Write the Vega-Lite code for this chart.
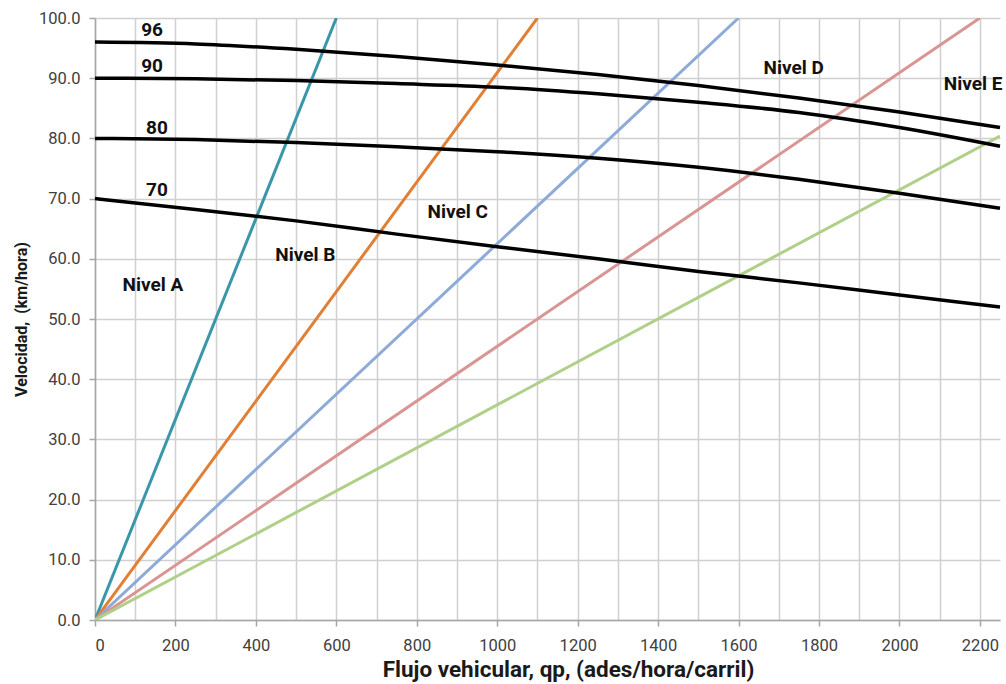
{
  "$schema": "https://vega.github.io/schema/vega-lite/v6.json",
  "autosize": {"type": "none"},
  "width": 905,
  "height": 602,
  "padding": {"left": 95, "top": 18, "right": 6, "bottom": 64},
  "background": "white",
  "config": {
    "view": {"stroke": null},
    "font": "Roboto",
    "axis": {
      "labelFont": "Roboto",
      "labelFontSize": 16.5,
      "labelColor": "#404040",
      "titleFont": "Roboto",
      "titleFontWeight": "bold",
      "titleColor": "#1a1a1a",
      "gridColor": "#d0d0d0",
      "gridWidth": 1.5,
      "domainColor": "#a6a6a6",
      "domainWidth": 1.5,
      "tickColor": "#a6a6a6",
      "tickWidth": 1.5,
      "tickSize": 6
    }
  },
  "datasets": {
    "curves": [
      {"q": 0, "v": 96, "s": "96"}, {"q": 250, "v": 95.7, "s": "96"}, {"q": 500, "v": 94.8, "s": "96"}, {"q": 750, "v": 93.6, "s": "96"}, {"q": 1000, "v": 92.2, "s": "96"}, {"q": 1250, "v": 90.6, "s": "96"}, {"q": 1500, "v": 88.8, "s": "96"}, {"q": 1750, "v": 86.7, "s": "96"}, {"q": 2000, "v": 84.4, "s": "96"}, {"q": 2250, "v": 81.8, "s": "96"},
      {"q": 0, "v": 90, "s": "90"}, {"q": 250, "v": 89.9, "s": "90"}, {"q": 500, "v": 89.6, "s": "90"}, {"q": 750, "v": 89.1, "s": "90"}, {"q": 1000, "v": 88.5, "s": "90"}, {"q": 1250, "v": 87.4, "s": "90"}, {"q": 1500, "v": 86.0, "s": "90"}, {"q": 1750, "v": 84.3, "s": "90"}, {"q": 2000, "v": 81.8, "s": "90"}, {"q": 2250, "v": 78.7, "s": "90"},
      {"q": 0, "v": 80, "s": "80"}, {"q": 250, "v": 79.8, "s": "80"}, {"q": 500, "v": 79.3, "s": "80"}, {"q": 750, "v": 78.6, "s": "80"}, {"q": 1000, "v": 77.8, "s": "80"}, {"q": 1250, "v": 76.7, "s": "80"}, {"q": 1500, "v": 75.2, "s": "80"}, {"q": 1750, "v": 73.2, "s": "80"}, {"q": 2000, "v": 70.9, "s": "80"}, {"q": 2250, "v": 68.4, "s": "80"},
      {"q": 0, "v": 70, "s": "70"}, {"q": 250, "v": 68.2, "s": "70"}, {"q": 500, "v": 66.3, "s": "70"}, {"q": 750, "v": 64.1, "s": "70"}, {"q": 1000, "v": 62.0, "s": "70"}, {"q": 1250, "v": 60.0, "s": "70"}, {"q": 1500, "v": 57.9, "s": "70"}, {"q": 1750, "v": 56.0, "s": "70"}, {"q": 2000, "v": 54.0, "s": "70"}, {"q": 2250, "v": 52.0, "s": "70"}
    ],
    "density": [
      {"q": 0, "v": 0, "k": "A"}, {"q": 600, "v": 100, "k": "A"},
      {"q": 0, "v": 0, "k": "B"}, {"q": 1100, "v": 100, "k": "B"},
      {"q": 0, "v": 0, "k": "C"}, {"q": 1600, "v": 100, "k": "C"},
      {"q": 0, "v": 0, "k": "D"}, {"q": 2200, "v": 100, "k": "D"},
      {"q": 0, "v": 0, "k": "E"}, {"q": 2250, "v": 80.4, "k": "E"}
    ],
    "labels": [
      {"q": 142, "v": 98.0, "t": "96"},
      {"q": 142, "v": 92.0, "t": "90"},
      {"q": 154, "v": 81.7, "t": "80"},
      {"q": 154, "v": 71.4, "t": "70"},
      {"q": 144, "v": 55.6, "t": "Nivel A"},
      {"q": 523, "v": 60.6, "t": "Nivel B"},
      {"q": 902, "v": 67.8, "t": "Nivel C"},
      {"q": 1737, "v": 91.7, "t": "Nivel D"},
      {"q": 2183, "v": 89.0, "t": "Nivel E"}
    ]
  },
  "layer": [
    {
      "data": {"name": "density"},
      "mark": {"type": "line", "strokeWidth": 3, "clip": true},
      "encoding": {
        "x": {
          "field": "q", "type": "quantitative",
          "scale": {"domain": [0, 2250], "nice": false},
          "axis": {
            "values": [0,100,200,300,400,500,600,700,800,900,1000,1100,1200,1300,1400,1500,1600,1700,1800,1900,2000,2100,2200],
            "labelExpr": "datum.value % 200 == 0 ? datum.label : ''",
            "format": "d",
            "tickColor": {"condition": {"test": "datum.value % 200 == 0", "value": "#a6a6a6"}, "value": "transparent"},
            "labelPadding": 11,
            "title": "Flujo vehicular, qp, (ades/hora/carril)",
            "titleFontSize": 22.5,
            "titlePadding": 5,
            "titleX": 473,
            "titleAlign": "center"
          }
        },
        "y": {
          "field": "v", "type": "quantitative",
          "scale": {"domain": [0, 100], "nice": false},
          "axis": {
            "values": [0,10,20,30,40,50,60,70,80,90,100],
            "format": ".1f",
            "labelPadding": 9,
            "title": "Velocidad,\u00a0\u00a0(km/hora)",
            "titleFontSize": 16,
            "titlePadding": 9
          }
        },
        "detail": {"field": "k"},
        "color": {
          "field": "k", "type": "nominal", "legend": null,
          "scale": {"domain": ["A","B","C","D","E"], "range": ["#3a97a9", "#e07f35", "#8eaad8", "#d99593", "#b0d08a"]}
        }
      }
    },
    {
      "data": {"name": "curves"},
      "mark": {"type": "line", "strokeWidth": 3.5, "color": "black", "interpolate": "monotone"},
      "encoding": {
        "x": {"field": "q", "type": "quantitative"},
        "y": {"field": "v", "type": "quantitative"},
        "detail": {"field": "s"}
      }
    },
    {
      "data": {"name": "labels"},
      "mark": {"type": "text", "fontWeight": "bold", "color": "#111111", "align": "center", "baseline": "middle", "font": "Roboto", "fontSize": 19},
      "encoding": {
        "x": {"field": "q", "type": "quantitative"},
        "y": {"field": "v", "type": "quantitative"},
        "text": {"field": "t"}
      }
    }
  ]
}
